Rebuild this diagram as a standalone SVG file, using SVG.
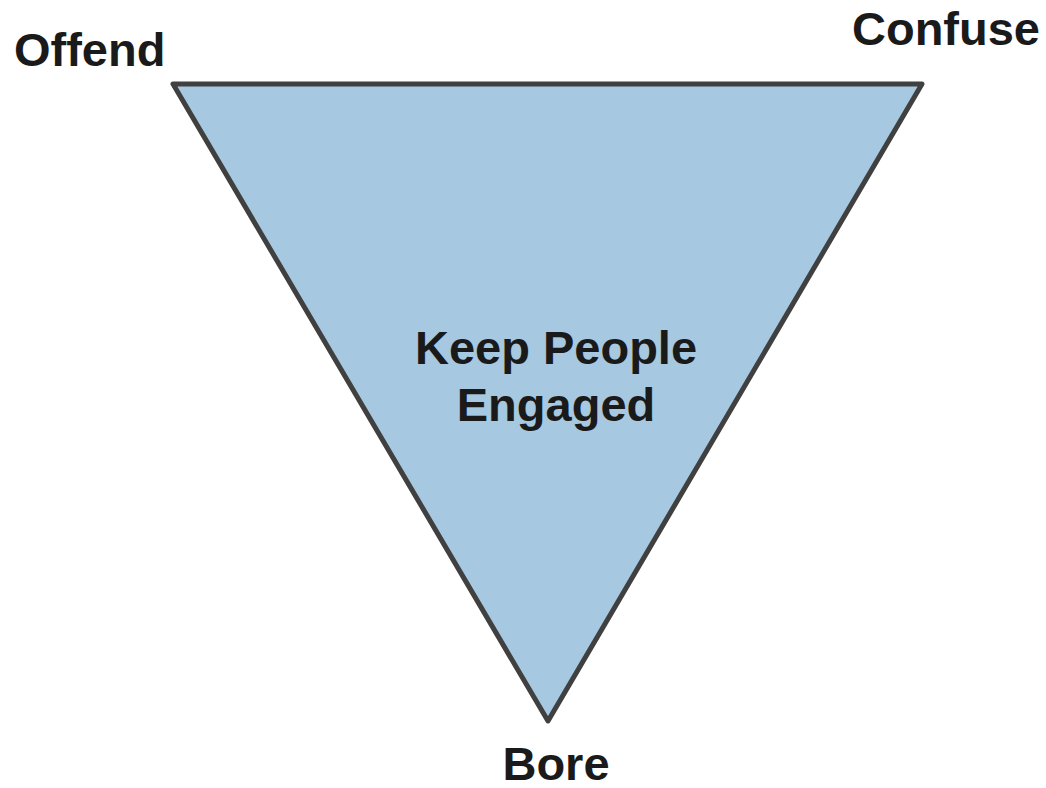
<svg xmlns="http://www.w3.org/2000/svg" width="1046" height="788" viewBox="0 0 1046 788">
<style>
.lbl{font-family:"Liberation Sans",Arial,sans-serif;font-weight:bold;font-size:47px;fill:#1a1a1a}
</style>
<rect width="1046" height="788" fill="#ffffff"/>
<g id="triangle">
<polygon points="173,84 922,84 548,721" fill="#a6c8e0" stroke="#404040" stroke-width="5" stroke-linejoin="round"/>
<text class="lbl" x="556" y="364" text-anchor="middle">Keep People</text>
<text class="lbl" x="556" y="421" text-anchor="middle">Engaged</text>
</g>
<g id="offend"><text class="lbl" x="14" y="66">Offend</text></g>
<g id="confuse"><text class="lbl" x="1040" y="45" text-anchor="end">Confuse</text></g>
<g id="bore"><text class="lbl" x="556" y="780" text-anchor="middle">Bore</text></g>
<g id="connectors"></g>
</svg>
